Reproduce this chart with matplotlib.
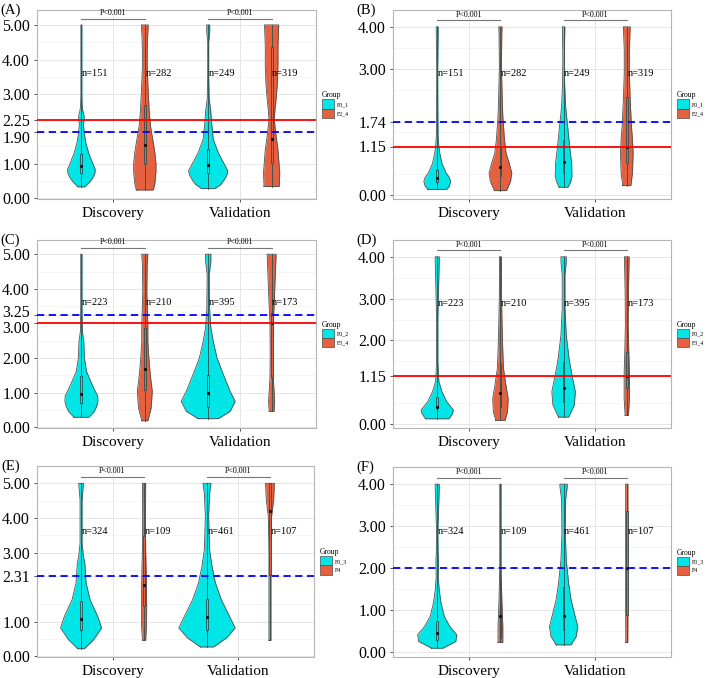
import matplotlib
matplotlib.use("Agg")
import matplotlib.pyplot as plt
from matplotlib.patches import Patch, Rectangle
from matplotlib.transforms import ScaledTranslation

plt.rcParams['font.family'] = ['Liberation Serif', 'DejaVu Serif']

CYAN = '#00E5E5'
RED = '#E4603F'
EDGE = '#505050'

categories = ['Discovery', 'Validation']

# violin outlines: y values and half widths (x units)
# order in each panel: cyan Discovery, red Discovery, cyan Validation, red Validation
A_vy = [[0.33, 0.45, 0.55, 0.7, 0.83, 1.0, 1.3, 1.6, 1.9, 2.13, 2.3, 2.4, 2.55, 2.7, 3.0, 4.0, 5.0],
        [0.24, 0.4, 0.55, 0.8, 1.0, 1.3, 1.6, 2.08, 2.5, 2.85, 3.3, 3.8, 4.2, 4.57, 5.0],
        [0.28, 0.4, 0.5, 0.65, 0.79, 1.0, 1.31, 1.7, 2.17, 2.56, 2.85, 3.5, 4.5, 4.8, 5.0],
        [0.34, 0.74, 1.4, 1.89, 2.27, 2.5, 2.85, 3.3, 3.8, 4.38, 5.0]]
A_vw = [[0.027, 0.06, 0.083, 0.105, 0.11, 0.09, 0.058, 0.035, 0.022, 0.016, 0.022, 0.02, 0.01, 0.006, 0.004, 0.004, 0.004],
        [0.067, 0.078, 0.083, 0.088, 0.088, 0.08, 0.067, 0.045, 0.035, 0.03, 0.024, 0.019, 0.019, 0.021, 0.027],
        [0.053, 0.1, 0.12, 0.145, 0.155, 0.125, 0.08, 0.04, 0.027, 0.019, 0.008, 0.004, 0.004, 0.012, 0.012],
        [0.06, 0.064, 0.05, 0.032, 0.021, 0.025, 0.035, 0.045, 0.05, 0.05, 0.056]]
A_box = [(0.74, 0.93, 1.29), (1.0, 1.55, 2.7), (0.72, 0.95, 1.41), (1.02, 1.7, 4.35)]

B_vy = [[0.13, 0.2, 0.32, 0.42, 0.52, 0.75, 0.99, 1.15, 1.4, 2.0, 3.0, 3.9, 4.0],
        [0.1, 0.32, 0.52, 0.75, 0.99, 1.31, 1.87, 2.42, 3.06, 3.85, 4.0],
        [0.18, 0.3, 0.44, 0.75, 1.15, 1.63, 2.1, 2.66, 3.3, 4.0],
        [0.22, 0.52, 0.99, 1.31, 1.63, 2.26, 2.9, 3.45, 4.0]]
B_vw = [[0.075, 0.095, 0.106, 0.095, 0.07, 0.037, 0.02, 0.013, 0.007, 0.005, 0.004, 0.008, 0.008],
        [0.048, 0.08, 0.09, 0.07, 0.045, 0.032, 0.019, 0.013, 0.008, 0.011, 0.013],
        [0.035, 0.055, 0.066, 0.064, 0.048, 0.032, 0.016, 0.008, 0.006, 0.01],
        [0.032, 0.045, 0.05, 0.045, 0.037, 0.027, 0.02, 0.02, 0.027]]
B_box = [(0.3, 0.4, 0.58), (0.44, 0.67, 1.15), (0.52, 0.77, 1.31), (0.75, 1.15, 2.34)]

C_vy = [[0.29, 0.45, 0.6, 0.75, 0.9, 1.23, 1.62, 2.0, 2.48, 2.77, 3.5, 5.0],
        [0.19, 0.56, 1.04, 1.52, 2.0, 2.48, 2.96, 3.92, 4.69, 5.0],
        [0.25, 0.46, 0.75, 1.04, 1.52, 2.0, 2.48, 2.87, 3.44, 4.4, 4.8, 5.0],
        [0.46, 0.75, 1.42, 2.19, 2.96, 3.92, 4.69, 5.0]]
C_vw = [[0.059, 0.1, 0.12, 0.13, 0.128, 0.085, 0.04, 0.024, 0.019, 0.008, 0.005, 0.005],
        [0.024, 0.05, 0.059, 0.043, 0.032, 0.024, 0.024, 0.016, 0.019, 0.024],
        [0.08, 0.173, 0.213, 0.173, 0.12, 0.07, 0.04, 0.021, 0.011, 0.008, 0.021, 0.021],
        [0.019, 0.024, 0.013, 0.011, 0.013, 0.024, 0.032, 0.035]]
C_box = [(0.7, 0.96, 1.47), (1.09, 1.68, 2.87), (0.6, 0.99, 1.5), (1.45, 3.0, 3.3)]

D_vy = [[0.13, 0.25, 0.34, 0.54, 0.78, 1.02, 1.18, 1.5, 2.5, 3.9, 4.0],
        [0.09, 0.3, 0.62, 0.94, 1.34, 1.73, 2.37, 3.16, 4.0],
        [0.17, 0.46, 0.78, 1.18, 1.57, 2.13, 2.77, 3.56, 3.88, 4.0],
        [0.21, 0.62, 1.18, 1.73, 2.37, 3.16, 4.0]]
D_vw = [[0.093, 0.12, 0.128, 0.075, 0.037, 0.013, 0.01, 0.005, 0.005, 0.016, 0.016],
        [0.037, 0.056, 0.061, 0.043, 0.024, 0.019, 0.013, 0.008, 0.008],
        [0.04, 0.085, 0.093, 0.066, 0.043, 0.021, 0.011, 0.011, 0.021, 0.021],
        [0.013, 0.021, 0.021, 0.016, 0.011, 0.013, 0.019]]
D_box = [(0.38, 0.42, 0.64), (0.42, 0.74, 1.46), (0.54, 0.86, 1.49), (0.86, 1.14, 1.73)]

E_vy = [[0.22, 0.48, 0.82, 1.15, 1.63, 2.12, 2.69, 2.88, 3.27, 4.52, 5.0],
        [0.46, 0.87, 1.44, 2.12, 3.08, 4.04, 5.0],
        [0.27, 0.53, 0.82, 1.15, 1.63, 2.12, 2.6, 3.08, 4.04, 4.71, 5.0],
        [0.46, 1.63, 3.08, 4.04, 4.52, 5.0]]
E_vw = [[0.027, 0.1, 0.163, 0.133, 0.072, 0.04, 0.03, 0.019, 0.008, 0.008, 0.019],
        [0.013, 0.019, 0.021, 0.019, 0.013, 0.011, 0.013],
        [0.053, 0.155, 0.224, 0.18, 0.115, 0.067, 0.04, 0.021, 0.013, 0.021, 0.032],
        [0.008, 0.008, 0.008, 0.013, 0.029, 0.035]]
E_box = [(0.77, 1.08, 1.59), (1.44, 2.07, 3.48), (0.77, 1.13, 1.65), (2.36, 4.2, 5.0)]

F_vy = [[0.08, 0.24, 0.4, 0.6, 0.84, 1.16, 1.47, 1.79, 2.19, 2.3, 2.83, 3.9, 4.0],
        [0.22, 0.6, 1.24, 2.03, 3.23, 4.0],
        [0.16, 0.36, 0.6, 0.92, 1.24, 1.63, 2.19, 2.83, 3.63, 3.94, 4.0],
        [0.22, 1.0, 2.0, 3.0, 4.0]]
F_vw = [[0.045, 0.147, 0.155, 0.1, 0.056, 0.03, 0.016, 0.008, 0.011, 0.008, 0.005, 0.016, 0.016],
        [0.019, 0.019, 0.011, 0.005, 0.005, 0.005],
        [0.059, 0.1, 0.112, 0.085, 0.059, 0.04, 0.021, 0.013, 0.016, 0.029, 0.029],
        [0.008, 0.009, 0.009, 0.009, 0.009]]
F_box = [(0.28, 0.44, 0.72), (0.32, 0.84, 1.67), (0.52, 0.84, 1.55), (0.88, 2.0, 3.35)]

A_n = [151, 282, 249, 319]
B_n = [151, 282, 249, 319]
C_n = [223, 210, 395, 173]
D_n = [223, 210, 395, 173]
E_n = [324, 109, 461, 107]
F_n = [324, 109, 461, 107]

A_groups = ['F0_1', 'F2_4']
B_groups = ['F0_1', 'F2_4']
C_groups = ['F0_2', 'F3_4']
D_groups = ['F0_2', 'F3_4']
E_groups = ['F0_3', 'F4']
F_groups = ['F0_3', 'F4']

A_yticks = [0, 1, 1.9, 2.25, 3, 4, 5]
B_yticks = [0, 1.15, 1.74, 3, 4]
C_yticks = [0, 1, 2, 3, 3.25, 4, 5]
D_yticks = [0, 1.15, 2, 3, 4]
E_yticks = [0, 1, 2.31, 3, 4, 5]
F_yticks = [0, 1, 2, 3, 4]

# cut-off lines: (red solid, blue dashed), None when absent
A_cut = (2.25, 1.90)
B_cut = (1.15, 1.74)
C_cut = (3.00, 3.25)
D_cut = (1.15, None)
E_cut = (None, 2.31)
F_cut = (None, 2.00)

p_text = 'P<0.001'

fig = plt.figure(figsize=(7.09, 6.78), dpi=100)
W, H = 709, 678


def add_axes(l, r, t, b):
    return fig.add_axes([l / W, 1 - b / H, (r - l) / W, (b - t) / H])


def nudge_label(ax, value, dy):
    # shift one y tick label a few points, like the crowded labels in the figure
    for tick, lab in zip(ax.get_yticks(), ax.get_yticklabels()):
        if abs(tick - value) < 1e-6:
            lab.set_transform(lab.get_transform() + ScaledTranslation(0, dy / 72, fig.dpi_scale_trans))


def draw_panel(ax, label, vy, vw, boxes, ns, groups, yticks, ylim, cut):
    top = max(yticks)
    xs = [0.75, 1.25, 1.75, 2.25]
    cols = [CYAN, RED, CYAN, RED]
    ax.set_xlim(0.4, 2.6)
    ax.set_ylim(*ylim)

    # grid
    for v in [k + 0.5 for k in range(int(top))]:
        ax.axhline(v, color='#F2F2F2', lw=0.5, zorder=0)
    for v in yticks:
        ax.axhline(v, color='#E6E6E6', lw=0.7, zorder=0)
    for c in (1, 2):
        ax.axvline(c, color='#E6E6E6', lw=0.7, zorder=0)

    for x, y, w, (q1, med, q3), col in zip(xs, vy, vw, boxes, cols):
        left = [x - v for v in w]
        right = [x + v for v in w]
        ax.fill_betweenx(y, left, right, color=col, lw=0, zorder=2)
        ax.plot(left + right[::-1] + [left[0]], y + y[::-1] + [y[0]], color=EDGE, lw=0.6, zorder=3)
        ax.plot([x, x], [y[0], y[-1]], color='#2F4F4F', lw=0.6, zorder=3)
        ax.add_patch(Rectangle((x - 0.007, q1), 0.014, q3 - q1, facecolor=col,
                               edgecolor='#2F4F4F', lw=0.6, zorder=4))
        ax.plot([x], [med], 'o', ms=1.3, color='#111111', zorder=5)

    for x, n in zip(xs, ns):
        ax.text(x + 0.005, 0.72 * top, f'n={n}', ha='left', va='center', fontsize=7.5, zorder=6)

    ybr = top + 0.03 * (ylim[1] - ylim[0]) + 0.02
    for c in (1, 2):
        ax.plot([c - 0.25, c + 0.25], [ybr, ybr], color='#777777', lw=0.8, zorder=6)
        ax.annotate(p_text, (c, ybr), xytext=(0, 1), textcoords='offset points',
                    ha='center', va='bottom', fontsize=5.8)

    red, blue = cut
    if red is not None:
        ax.axhline(red, color='#FF0000', lw=1.3, zorder=7)
    if blue is not None:
        ax.axhline(blue, color='#0000FF', lw=1.3, ls=(0, (4, 2.5)), zorder=7)

    ax.set_yticks(yticks)
    ax.set_yticklabels([f'{v:.2f}' for v in yticks])
    ax.set_xticks([1, 2])
    ax.set_xticklabels(categories)
    ax.tick_params(axis='both', length=2.5, width=0.6, color='#333333')
    ax.tick_params(axis='y', labelsize=11.5, pad=2.5)
    ax.tick_params(axis='x', labelsize=11, pad=3)
    for s in ax.spines.values():
        s.set_color('#B5B5B5')
        s.set_linewidth(0.8)

    handles = [Patch(facecolor=CYAN, edgecolor=EDGE, lw=0.5, label=groups[0]),
               Patch(facecolor=RED, edgecolor=EDGE, lw=0.5, label=groups[1])]
    leg = ax.legend(handles=handles, title='Group', loc='center left', bbox_to_anchor=(1.0, 0.5),
                    frameon=False, fontsize=4.2, title_fontsize=5.5, handlelength=2.0,
                    handleheight=2.0, handletextpad=0.5, labelspacing=0.0, borderaxespad=0.6)
    leg._legend_box.align = 'left'

    ax.text(-0.13, 1.0, label, transform=ax.transAxes, fontsize=10.5, ha='left', va='center')


axA = add_axes(37, 316, 10, 199)
axB = add_axes(393, 671, 10, 199)
axC = add_axes(37, 316, 240, 428)
axD = add_axes(393, 671, 240, 428)
axE = add_axes(37, 314, 466, 657)
axF = add_axes(393, 671, 467, 657)

draw_panel(axA, '(A)', A_vy, A_vw, A_box, A_n, A_groups, A_yticks, (-0.02, 5.43), A_cut)
draw_panel(axB, '(B)', B_vy, B_vw, B_box, B_n, B_groups, B_yticks, (-0.1, 4.4), B_cut)
draw_panel(axC, '(C)', C_vy, C_vw, C_box, C_n, C_groups, C_yticks, (-0.02, 5.41), C_cut)
draw_panel(axD, '(D)', D_vy, D_vw, D_box, D_n, D_groups, D_yticks, (-0.09, 4.4), D_cut)
draw_panel(axE, '(E)', E_vy, E_vw, E_box, E_n, E_groups, E_yticks, (-0.02, 5.5), E_cut)
draw_panel(axF, '(F)', F_vy, F_vw, F_box, F_n, F_groups, F_yticks, (-0.13, 4.41), F_cut)

nudge_label(axA, 1.9, -3)
nudge_label(axC, 3.25, 2.5)
nudge_label(axC, 3.0, -2.5)

fig.savefig('out.png', dpi=100)
